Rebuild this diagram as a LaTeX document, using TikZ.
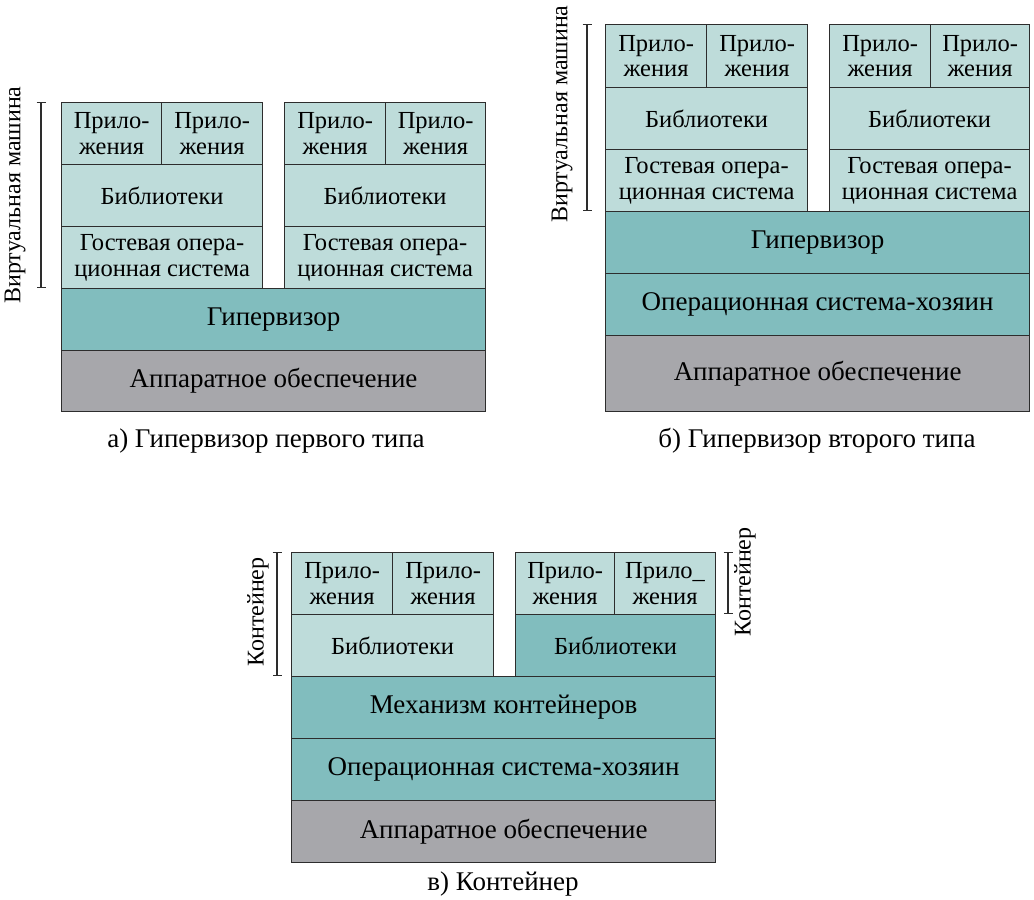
\documentclass[tikz,border=0pt]{standalone}
\usepackage{fontspec}
\setmainfont{Liberation Serif}
\usepackage{xcolor}
\definecolor{vmlight}{RGB}{190,220,218}
\definecolor{vmmid}{RGB}{129,189,190}
\definecolor{hwgray}{RGB}{167,167,171}
\definecolor{edge}{RGB}{45,45,45}
\usetikzlibrary{arrows.meta}

\begin{document}
\begin{tikzpicture}[x=1pt, y=-1pt,
  layer/.style={rectangle, draw=edge, line width=1.2pt, anchor=north west, inner sep=0pt,
                align=center, font=\fontsize{27}{30}\selectfont},
  light/.style={layer, fill=vmlight, font=\fontsize{24.5}{25.5}\selectfont},
  mid/.style={layer, fill=vmmid},
  hw/.style={layer, fill=hwgray},
  brace/.style={{Bar[width=9pt]}-{Bar[width=9pt]}, line width=1.2pt, edge},
  side/.style={rotate=90, font=\fontsize{24}{28}\selectfont},
  caption/.style={font=\fontsize{27}{30}\selectfont}
]
\useasboundingbox (0,0) rectangle (1034,900);

% a) type 1 hypervisor
\node[light, minimum width=100pt, minimum height=62pt] (a-app1) at (61,102)  {Прило-\\жения};
\node[light, minimum width=101pt, minimum height=62pt] (a-app2) at (161,102) {Прило-\\жения};
\node[light, minimum width=201pt, minimum height=62pt] (a-lib1) at (61,164)  {Библиотеки};
\node[light, minimum width=201pt, minimum height=62pt] (a-os1)  at (61,226)  {Гостевая опера-\\ционная система};
\node[light, minimum width=101pt, minimum height=62pt] (a-app3) at (284,102) {Прило-\\жения};
\node[light, minimum width=100pt, minimum height=62pt] (a-app4) at (385,102) {Прило-\\жения};
\node[light, minimum width=201pt, minimum height=62pt] (a-lib2) at (284,164) {Библиотеки};
\node[light, minimum width=201pt, minimum height=62pt] (a-os2)  at (284,226) {Гостевая опера-\\ционная система};
\node[mid, minimum width=424pt, minimum height=62pt]   (a-hyp)  at (61,288)  {Гипервизор};
\node[hw, minimum width=424pt, minimum height=61pt]    (a-hw)   at (61,350)  {Аппаратное обеспечение};
\coordinate (a-top) at (41,102);
\coordinate (a-bot) at (41,288);
\draw[brace] (a-top) -- (a-bot);
\node[side] (a-vm) at (15,195) {Виртуальная машина};
\node[caption] (a-cap) at (266,441) {а) Гипервизор первого типа};

% b) type 2 hypervisor
\node[light, minimum width=101pt, minimum height=63pt] (b-app1) at (605,24)  {Прило-\\жения};
\node[light, minimum width=101pt, minimum height=63pt] (b-app2) at (706,24)  {Прило-\\жения};
\node[light, minimum width=202pt, minimum height=62pt] (b-lib1) at (605,87)  {Библиотеки};
\node[light, minimum width=202pt, minimum height=62pt] (b-os1)  at (605,149) {Гостевая опера-\\ционная система};
\node[light, minimum width=101pt, minimum height=63pt] (b-app3) at (829,24)  {Прило-\\жения};
\node[light, minimum width=99pt, minimum height=63pt]  (b-app4) at (930,24)  {Прило-\\жения};
\node[light, minimum width=200pt, minimum height=62pt] (b-lib2) at (829,87)  {Библиотеки};
\node[light, minimum width=200pt, minimum height=62pt] (b-os2)  at (829,149) {Гостевая опера-\\ционная система};
\node[mid, minimum width=424pt, minimum height=62pt]   (b-hyp)  at (605,211) {Гипервизор};
\node[mid, minimum width=424pt, minimum height=62pt]   (b-host) at (605,273) {Операционная система-хозяин};
\node[hw, minimum width=424pt, minimum height=76pt]    (b-hw)   at (605,335) {Аппаратное обеспечение};
\coordinate (b-top) at (587,24);
\coordinate (b-bot) at (587,211);
\draw[brace] (b-top) -- (b-bot);
\node[side] (b-vm) at (562,114) {Виртуальная машина};
\node[caption] (b-cap) at (817,441) {б) Гипервизор второго типа};

% c) containers
\node[light, minimum width=101pt, minimum height=62pt] (c-app1) at (291,552) {Прило-\\жения};
\node[light, minimum width=101pt, minimum height=62pt] (c-app2) at (392,552) {Прило-\\жения};
\node[light, minimum width=202pt, minimum height=62pt] (c-lib1) at (291,614) {Библиотеки};
\node[light, minimum width=99pt, minimum height=62pt]  (c-app3) at (515,552) {Прило-\\жения};
\node[light, minimum width=101pt, minimum height=62pt] (c-app4) at (614,552) {Прило\_\\жения};
\node[mid, minimum width=200pt, minimum height=62pt, font=\fontsize{24.5}{25.5}\selectfont] (c-lib2) at (515,614) {Библиотеки};
\node[mid, minimum width=424pt, minimum height=62pt]   (c-eng)  at (291,676) {Механизм контейнеров};
\node[mid, minimum width=424pt, minimum height=62pt]   (c-host) at (291,738) {Операционная система-хозяин};
\node[hw, minimum width=424pt, minimum height=62pt]    (c-hw)   at (291,800) {Аппаратное обеспечение};
\coordinate (c-ltop) at (277,552);
\coordinate (c-lbot) at (277,676);
\draw[brace] (c-ltop) -- (c-lbot);
\node[side] (c-left) at (258,612) {Контейнер};
\coordinate (c-rtop) at (728,552);
\coordinate (c-rbot) at (728,614);
\draw[brace] (c-rtop) -- (c-rbot);
\node[side] (c-right) at (745,582) {Контейнер};
\node[caption] (c-cap) at (503,884) {в) Контейнер};
\end{tikzpicture}
\end{document}
